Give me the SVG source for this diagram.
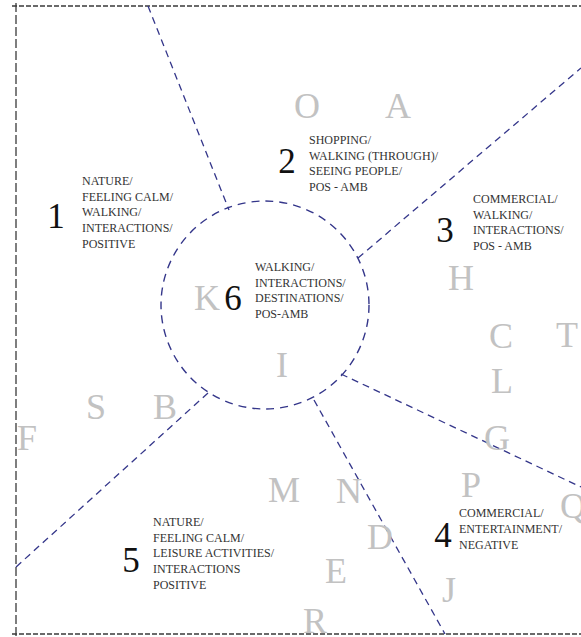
<svg xmlns="http://www.w3.org/2000/svg" width="581" height="637" viewBox="0 0 581 637">
<style>
.border{stroke:#3a3a3a;stroke-width:1.3;fill:none}
.bh{stroke-dasharray:5 2}
.bv{stroke-dasharray:9 3}
.conn{stroke:#34368a;stroke-width:1.3;fill:none;stroke-dasharray:7 5}
.zone{stroke:#34368a;stroke-width:1.4;fill:none;stroke-dasharray:8 6}
.let{font-family:"Liberation Serif","Times New Roman",serif;font-size:36px;fill:#c2c2c2;text-anchor:middle}
.num{font-family:"Liberation Serif","Times New Roman",serif;font-size:35px;fill:#111;text-anchor:middle}
.lab{font-family:"Liberation Serif","Times New Roman",serif;font-size:12px;fill:#333}
</style>
<rect width="581" height="637" fill="#fff"/>
<g id="frame">
<line class="border bh" x1="12" y1="6" x2="581" y2="6"/>
<line class="border bh" x1="12" y1="634" x2="581" y2="634"/>
<line class="border bv" x1="16" y1="3" x2="16" y2="637"/>
</g>
<g id="connectors">
<line class="conn" x1="148" y1="6" x2="229" y2="210"/>
<line class="conn" x1="358" y1="258" x2="581" y2="68"/>
<line class="conn" x1="341" y1="374" x2="581" y2="487"/>
<line class="conn" x1="314" y1="400" x2="445" y2="634"/>
<line class="conn" x1="208" y1="393" x2="16" y2="567"/>
</g>
<g id="zone6-circle">
<circle class="zone" cx="265" cy="305" r="104"/>
</g>
<g id="letters">
<text class="let" x="307" y="118">O</text>
<text class="let" x="398" y="118">A</text>
<text class="let" x="461" y="290">H</text>
<text class="let" x="207" y="310">K</text>
<text class="let" x="282" y="377">I</text>
<text class="let" x="501" y="348">C</text>
<text class="let" x="567" y="347">T</text>
<text class="let" x="502" y="393">L</text>
<text class="let" x="96" y="419">S</text>
<text class="let" x="165" y="419">B</text>
<text class="let" x="27" y="450">F</text>
<text class="let" x="497" y="450">G</text>
<text class="let" x="284" y="502">M</text>
<text class="let" x="349" y="503">N</text>
<text class="let" x="471" y="497">P</text>
<text class="let" x="573" y="518">Q</text>
<text class="let" x="380" y="549">D</text>
<text class="let" x="336" y="583">E</text>
<text class="let" x="449" y="602">J</text>
<text class="let" x="315" y="633">R</text>
</g>
<g id="zone1">
<text class="num" x="56" y="228">1</text>
<text class="lab" x="82" y="185">NATURE/<tspan x="82" dy="15.7">FEELING CALM/</tspan><tspan x="82" dy="15.7">WALKING/</tspan><tspan x="82" dy="15.7">INTERACTIONS/</tspan><tspan x="82" dy="15.7">POSITIVE</tspan></text>
</g>
<g id="zone2">
<text class="num" x="287" y="173">2</text>
<text class="lab" x="309" y="144">SHOPPING/<tspan x="309" dy="15.7">WALKING (THROUGH)/</tspan><tspan x="309" dy="15.7">SEEING PEOPLE/</tspan><tspan x="309" dy="15.7">POS - AMB</tspan></text>
</g>
<g id="zone3">
<text class="num" x="445" y="242">3</text>
<text class="lab" x="473" y="203">COMMERCIAL/<tspan x="473" dy="15.7">WALKING/</tspan><tspan x="473" dy="15.7">INTERACTIONS/</tspan><tspan x="473" dy="15.7">POS - AMB</tspan></text>
</g>
<g id="zone6">
<text class="num" x="233" y="310">6</text>
<text class="lab" x="255" y="271">WALKING/<tspan x="255" dy="15.7">INTERACTIONS/</tspan><tspan x="255" dy="15.7">DESTINATIONS/</tspan><tspan x="255" dy="15.7">POS-AMB</tspan></text>
</g>
<g id="zone4">
<text class="num" x="443" y="547">4</text>
<text class="lab" x="459" y="517">COMMERCIAL/<tspan x="459" dy="16">ENTERTAINMENT/</tspan><tspan x="459" dy="16">NEGATIVE</tspan></text>
</g>
<g id="zone5">
<text class="num" x="131" y="572">5</text>
<text class="lab" x="153" y="526">NATURE/<tspan x="153" dy="15.7">FEELING CALM/</tspan><tspan x="153" dy="15.7">LEISURE ACTIVITIES/</tspan><tspan x="153" dy="15.7">INTERACTIONS</tspan><tspan x="153" dy="15.7">POSITIVE</tspan></text>
</g>
</svg>
